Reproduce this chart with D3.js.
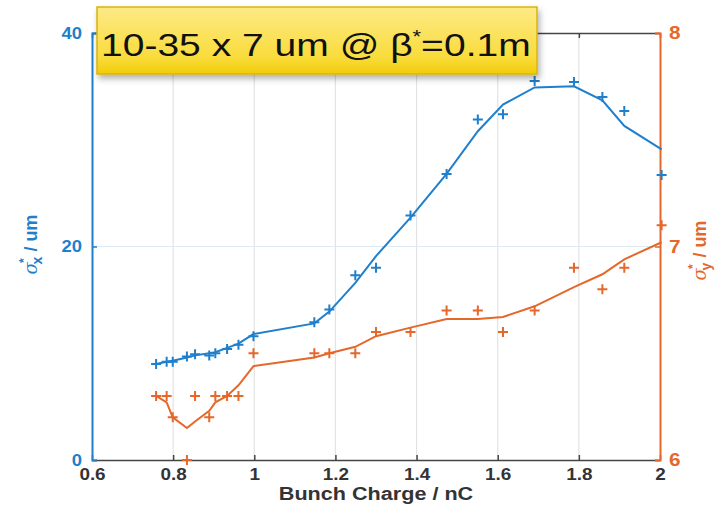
<!DOCTYPE html>
<html>
<head>
<meta charset="utf-8">
<script src="https://cdn.jsdelivr.net/npm/d3@7"></script>
<style>
  body { margin: 0; background: #fff; }
  svg { display: block; font-family: "Liberation Sans", Arial, sans-serif; }
</style>
</head>
<body>
<svg id="chart"></svg>
<script>
const W = 726, H = 508;
const margin = { top: 33, right: 66, bottom: 48, left: 92 };

// bunch charge (nC) at each measurement
const charge = [0.758, 0.784, 0.799, 0.834, 0.854, 0.889, 0.904, 0.933, 0.961, 0.998,
  1.148, 1.185, 1.249, 1.300, 1.385, 1.474, 1.551, 1.613, 1.691, 1.788, 1.858, 1.912, 2.004];

// sigma_x* measured (um) and fitted line
const sigxMeas = [9.0, 9.2, 9.2, 9.7, 9.9, 9.8, 10.0, 10.4, 10.8, 11.6,
  12.9, 14.1, 17.3, 18.0, 22.9, 26.8, 31.9, 32.4, 35.5, 35.4, 34.0, 32.7, 26.7];
const sigxFit = [9.0, 9.2, 9.3, 9.6, 9.8, 10.0, 10.1, 10.5, 10.9, 11.8,
  12.8, 13.9, 16.6, 19.1, 22.7, 26.8, 30.8, 33.3, 34.9, 35.0, 33.7, 31.3, 29.1];

// sigma_y* measured (um) and fitted line
const sigyMeas = [6.3, 6.3, 6.2, 6.0, 6.3, 6.2, 6.3, 6.3, 6.3, 6.5,
  6.5, 6.5, 6.5, 6.6, 6.6, 6.7, 6.7, 6.6, 6.7, 6.9, 6.8, 6.9, 7.1];
const sigyFit = [6.3, 6.27, 6.2, 6.15, 6.18, 6.23, 6.27, 6.3, 6.35, 6.44,
  6.48, 6.5, 6.53, 6.58, 6.62, 6.66, 6.66, 6.67, 6.72, 6.81, 6.87, 6.94, 7.02];

const xTicks = [0.6, 0.8, 1, 1.2, 1.4, 1.6, 1.8, 2];
const yLeftTicks = [0, 20, 40];
const yRightTicks = [6, 7, 8];

const blue = "#1f7fcc";
const orange = "#e5672a";

const width = W - margin.left - margin.right;
const height = H - margin.top - margin.bottom;

// the source picture is a bit wider than tall, so text gets stretched sideways
function stretch(sel, k) {
  sel.each(function() {
    const len = this.getComputedTextLength();
    d3.select(this).attr("textLength", len * k).attr("lengthAdjust", "spacingAndGlyphs");
  });
}

const svgEl = d3.select("#chart").attr("width", W).attr("height", H);

const defs = svgEl.append("defs");
const grad = defs.append("linearGradient").attr("id", "boxGrad")
  .attr("x1", 0).attr("y1", 0).attr("x2", 0).attr("y2", 1);
grad.append("stop").attr("offset", "0%").attr("stop-color", "#fdea86");
grad.append("stop").attr("offset", "75%").attr("stop-color", "#f9dc3c");
grad.append("stop").attr("offset", "100%").attr("stop-color", "#f2cc08");
const filt = defs.append("filter").attr("id", "shadow")
  .attr("x", "-10%").attr("y", "-20%").attr("width", "130%").attr("height", "160%");
filt.append("feDropShadow").attr("dx", 2).attr("dy", 4).attr("stdDeviation", 3)
  .attr("flood-color", "#000").attr("flood-opacity", 0.3);

const svg = svgEl.append("g").attr("transform", `translate(${margin.left},${margin.top})`);

const x = d3.scaleLinear().domain([0.6, 2]).range([0, width]);
const yL = d3.scaleLinear().domain([0, 40]).range([height, 0]);
const yR = d3.scaleLinear().domain([6, 8]).range([height, 0]);

// grid
svg.append("g").selectAll("line").data(xTicks.slice(1, -1)).join("line")
  .attr("x1", d => x(d)).attr("x2", d => x(d))
  .attr("y1", 0).attr("y2", height)
  .attr("stroke", "#e3e3e3").attr("stroke-width", 1.2);
svg.append("g").selectAll("line").data(yLeftTicks.slice(1, -1)).join("line")
  .attr("x1", 0).attr("x2", width)
  .attr("y1", d => yL(d)).attr("y2", d => yL(d))
  .attr("stroke", "#dcebf7").attr("stroke-width", 1.2);

// x axes (bottom + top)
const xAxis = svg.append("g").attr("transform", `translate(0,${height})`)
  .call(d3.axisBottom(x).tickValues(xTicks).tickFormat(d3.format("")).tickSizeInner(-5).tickSizeOuter(0).tickPadding(9));
xAxis.select(".domain").attr("stroke", "#444").attr("stroke-width", 1.5);
xAxis.selectAll(".tick line").attr("stroke", "#444").attr("stroke-width", 1.5);
xAxis.selectAll("text").attr("fill", "#333").style("font-size", "16px").style("font-weight", "bold")
  .call(stretch, 1.18);

const xTop = svg.append("g")
  .call(d3.axisTop(x).tickValues(xTicks).tickFormat("").tickSizeInner(-5).tickSizeOuter(0));
xTop.select(".domain").attr("stroke", "#444").attr("stroke-width", 1.5);
xTop.selectAll(".tick line").attr("stroke", "#444").attr("stroke-width", 1.5);

// left axis
const yAxisL = svg.append("g")
  .call(d3.axisLeft(yL).tickValues(yLeftTicks).tickFormat(d3.format("d")).tickSizeInner(-5).tickSizeOuter(-5).tickPadding(10));
yAxisL.select(".domain").attr("stroke", blue).attr("stroke-width", 2);
yAxisL.selectAll(".tick line").attr("stroke", blue).attr("stroke-width", 1.5);
yAxisL.selectAll("text").attr("fill", blue).style("font-size", "16px").style("font-weight", "bold")
  .call(stretch, 1.15);

// right axis
const yAxisR = svg.append("g").attr("transform", `translate(${width},0)`)
  .call(d3.axisRight(yR).tickValues(yRightTicks).tickFormat(d3.format("d")).tickSizeInner(-5).tickSizeOuter(-5).tickPadding(9));
yAxisR.select(".domain").attr("stroke", orange).attr("stroke-width", 2);
yAxisR.selectAll(".tick line").attr("stroke", orange).attr("stroke-width", 1.5);
yAxisR.selectAll("text").attr("fill", orange).style("font-size", "18px").style("font-weight", "bold")
  .call(stretch, 1.15);

// lines
const lineX = d3.line().x((d, i) => x(charge[i])).y(d => yL(d));
const lineY = d3.line().x((d, i) => x(charge[i])).y(d => yR(d));

svg.append("path").datum(sigyFit).attr("d", lineY)
  .attr("fill", "none").attr("stroke", orange).attr("stroke-width", 2);
svg.append("path").datum(sigxFit).attr("d", lineX)
  .attr("fill", "none").attr("stroke", blue).attr("stroke-width", 2);

const cross = "M-5,0H5M0,-5V5";
svg.append("g").selectAll("path").data(sigyMeas).join("path")
  .attr("transform", (d, i) => `translate(${x(charge[i])},${yR(d)})`)
  .attr("d", cross).attr("stroke", orange).attr("stroke-width", 2);
svg.append("g").selectAll("path").data(sigxMeas).join("path")
  .attr("transform", (d, i) => `translate(${x(charge[i])},${yL(d)})`)
  .attr("d", cross).attr("stroke", blue).attr("stroke-width", 2);

// axis labels
svg.append("text")
  .attr("x", width / 2).attr("y", height + 40)
  .attr("text-anchor", "middle")
  .attr("fill", "#333")
  .style("font-size", "18px").style("font-weight", "bold")
  .text("Bunch Charge / nC")
  .call(stretch, 1.2);

function sigmaLabel(g, sub, color) {
  const t = g.append("text").attr("text-anchor", "middle").attr("fill", color)
    .style("font-size", "18px");
  t.append("tspan").style("font-style", "italic").style("font-family", "'DejaVu Serif', serif").text("σ");
  t.append("tspan").attr("dy", -9).attr("dx", -1).style("font-size", "12px").style("font-weight", "bold").text("*");
  t.append("tspan").attr("dy", 14).attr("dx", -6).style("font-size", "14px").style("font-weight", "bold").text("x" === sub ? "x" : "y");
  t.append("tspan").attr("dy", -5).style("font-weight", "bold").text(" / um");
}
sigmaLabel(svg.append("g").attr("transform", `translate(-55,${yL(20) - 2}) rotate(-90)`), "x", blue);
sigmaLabel(svg.append("g").attr("transform", `translate(${width + 46},${yR(7) + 4}) rotate(-90)`), "y", orange);

// title box
const box = svgEl.append("g");
box.append("rect")
  .attr("x", 97).attr("y", 7).attr("width", 440).attr("height", 67)
  .attr("fill", "url(#boxGrad)").attr("stroke", "#d7b412").attr("stroke-width", 1.5)
  .attr("filter", "url(#shadow)");
const title = box.append("text")
  .attr("transform", "translate(101,56) scale(1.22,1)")
  .attr("fill", "#111")
  .style("font-size", "32px");
title.append("tspan").text("10-35 x 7 um @ β");
title.append("tspan").attr("dy", -13).style("font-size", "18px").text("*");
title.append("tspan").attr("dy", 13).text("=0.1m");
</script>
</body>
</html>
